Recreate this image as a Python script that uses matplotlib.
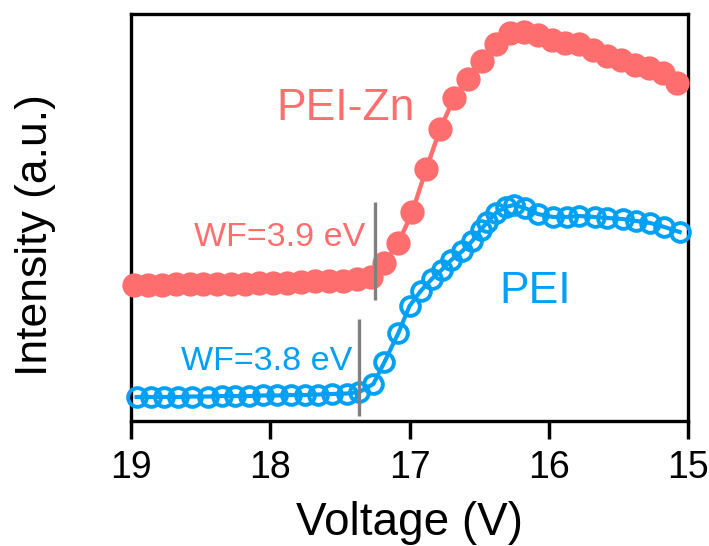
"""
UPS secondary-electron cutoff for PEI and PEI-Zn.
"""
import matplotlib
matplotlib.use('Agg')
import matplotlib.pyplot as plt

plt.rcParams['font.family'] = ['Liberation Sans', 'DejaVu Sans']

# PEI-Zn (filled red)
v_zn = [18.98, 18.88, 18.78, 18.68, 18.58, 18.48, 18.38, 18.28, 18.18, 18.08,
        17.98, 17.88, 17.78, 17.68, 17.58, 17.48, 17.38, 17.28, 17.18, 17.08,
        16.98, 16.88, 16.78, 16.68, 16.58, 16.48, 16.38, 16.28, 16.18, 16.08,
        15.98, 15.88, 15.78, 15.68, 15.58, 15.48, 15.38, 15.28, 15.18, 15.08]
i_zn = [33.42, 33.42, 33.42, 33.54, 33.54, 33.66, 33.66, 33.78, 33.78, 33.91,
        33.91, 34.03, 34.15, 34.28, 34.40, 34.52, 34.77, 35.38, 38.82, 43.73,
        51.35, 61.92, 71.74, 79.36, 84.03, 88.45, 92.63, 95.33, 95.58, 94.84,
        93.61, 92.87, 92.63, 91.15, 89.68, 88.70, 87.47, 86.73, 85.50, 83.05]

# PEI (open blue)
v_pei = [18.96, 18.86, 18.76, 18.66, 18.56, 18.45, 18.35, 18.25, 18.15, 18.05,
         17.95, 17.85, 17.75, 17.66, 17.56, 17.45, 17.36, 17.26, 17.18, 17.08,
         17.00, 16.92, 16.84, 16.77, 16.70, 16.62, 16.55, 16.49, 16.44, 16.38,
         16.31, 16.25, 16.17, 16.08, 15.97, 15.87, 15.78, 15.67, 15.58, 15.47,
         15.37, 15.27, 15.17, 15.06]
i_pei = [5.90, 5.90, 5.90, 5.90, 6.02, 6.02, 6.14, 6.14, 6.14, 6.27,
         6.27, 6.39, 6.39, 6.51, 6.63, 6.76, 7.13, 9.09, 14.50, 21.62,
         28.26, 31.94, 34.89, 37.10, 39.56, 41.77, 44.23, 46.93, 48.89, 51.11,
         52.58, 53.07, 52.33, 50.86, 50.12, 50.12, 50.37, 50.12, 49.88, 49.63,
         49.14, 48.65, 47.67, 46.44]

# work-function cutoff markers
wf_zn_v, wf_zn_range = 17.25, (29.7, 53.8)
wf_pei_v, wf_pei_range = 17.36, (1.2, 25.1)

red = '#FF6E6E'
blue = '#00A0F5'
grey = '#808080'

fig = plt.figure(figsize=(7.09, 5.46), dpi=100)
ax = fig.add_axes([0.1848, 0.2289, 0.7856, 0.7455])

ax.plot(v_zn, i_zn, '-o', color=red, linewidth=3.2, markersize=17.5,
        markeredgewidth=0, clip_on=False, zorder=3)
ax.plot(v_pei, i_pei, '-o', color=blue, linewidth=3.0, markersize=13.5,
        markerfacecolor='none', markeredgecolor=blue, markeredgewidth=2.8,
        clip_on=False, zorder=3)

ax.vlines(wf_zn_v, *wf_zn_range, color=grey, linewidth=2.4, zorder=4)
ax.vlines(wf_pei_v, *wf_pei_range, color=grey, linewidth=2.4, zorder=4)

ax.text(17.456, 74.0, 'PEI-Zn', color=red, fontsize=32, ha='center', va='baseline')
ax.text(16.099, 29.0, 'PEI', color=blue, fontsize=32, ha='center', va='baseline')
ax.text(17.32, 43.0, 'WF=3.9 eV', color=red, fontsize=24.5, ha='right', va='baseline')
ax.text(17.41, 12.5, 'WF=3.8 eV', color=blue, fontsize=24.5, ha='right', va='baseline')

ax.set_xlim(19, 15)
ax.set_ylim(0, 100)
ax.set_xticks([19, 18, 17, 16, 15])
ax.set_yticks([])
ax.tick_params(axis='x', direction='out', length=13, width=2.5, pad=8, labelsize=27)
for s in ax.spines.values():
    s.set_linewidth(2.4)

ax.set_xlabel('Voltage (V)', fontsize=33, labelpad=11)
ax.set_ylabel('Intensity (a.u.)', fontsize=32)
ax.yaxis.set_label_coords(-0.135, 0.457)

plt.savefig('out.png', dpi=100)
